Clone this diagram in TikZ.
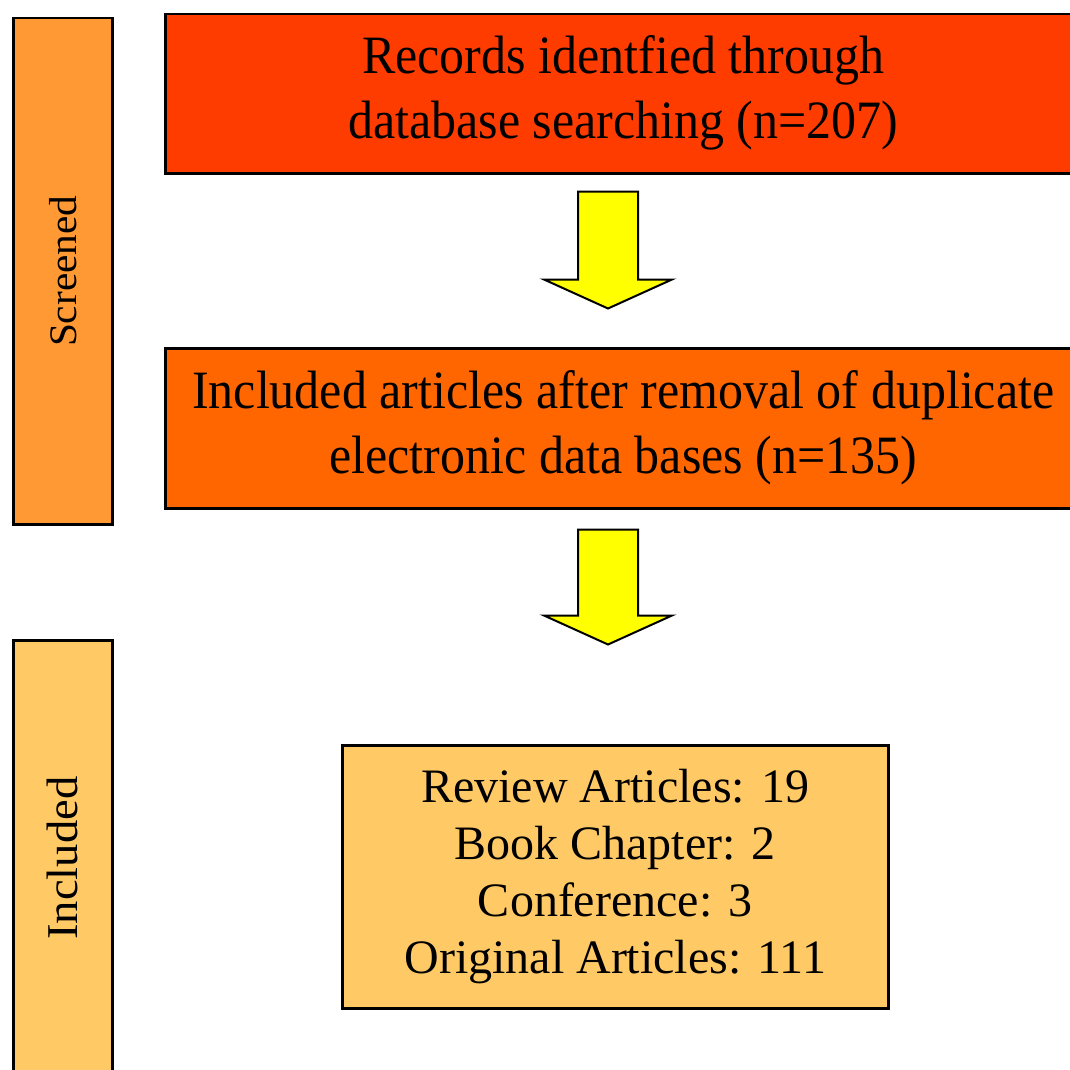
\documentclass[tikz,border=0pt]{standalone}
\usepackage{fontspec}
\setmainfont{Liberation Serif}
\usetikzlibrary{calc}
\definecolor{redbox}{HTML}{FF3C00}
\definecolor{midbox}{HTML}{FF6600}
\definecolor{scrbox}{HTML}{FF9933}
\definecolor{incbox}{HTML}{FFC966}
\definecolor{arrowyellow}{HTML}{FFFF00}
\newcommand{\yarrow}[2]{%
  \draw[blockarrow] (#1) ++(-30,0) -- ++(60,0) -- ++(0,#2) -- ++(34,0) -- ++(-64,29) -- ++(-64,-29) -- ++(34,0) -- cycle;}
\begin{document}
\begin{tikzpicture}[x=1pt,y=-1pt,
  box/.style={draw=black, line width=2.5pt, rectangle, inner sep=0pt, align=center, anchor=north west},
  blockarrow/.style={draw=black, line width=2pt, fill=arrowyellow, line join=miter},
  bigtext/.style={font=\fontsize{50}{58}\selectfont},
  listtext/.style={font=\fontsize{48}{57}\selectfont}]
\useasboundingbox (0,0) rectangle (1070,1070);
\clip (0,0) rectangle (1070,1070);
\fill[white] (0,0) rectangle (1070,1070);
% stage bars
\node[box, fill=scrbox, minimum width=99pt, minimum height=506pt] (scr) at (12,17)
  {\rotatebox{90}{\scalebox{1.06}[1]{\fontsize{39}{45}\selectfont Screened}}};
\node[box, fill=incbox, minimum width=99pt, minimum height=520pt] (inc) at (12,639) {};
\node[rotate=90] (inclabel) at (62,858) {\scalebox{1.06}[1]{\fontsize{44}{50}\selectfont Included}};
% main boxes
\node[box, fill=redbox, minimum width=916pt, minimum height=159pt, bigtext] (top) at (164,13)
  {\scalebox{1}[1.08]{\begin{tabular}{c}Records identfied through\\[2pt] database searching (n=207)\end{tabular}}};
\node[box, fill=midbox, minimum width=916pt, minimum height=160pt, bigtext] (mid) at (164,347)
  {\scalebox{1}[1.08]{\begin{tabular}{c}Included articles after removal of duplicate\\[2pt] electronic data bases (n=135)\end{tabular}}};
\node[box, fill=incbox, minimum width=546pt, minimum height=263pt, listtext] (res) at (341,744)
  {Review Articles: 19\\ Book Chapter: 2\\ Conference: 3\\ Original Articles: 111};
% connectors
\coordinate (a1) at ($(top.south west)+(444,17)$);
\coordinate (a2) at ($(mid.south west)+(444,20)$);
\yarrow{a1}{88}
\yarrow{a2}{86}
\end{tikzpicture}
\end{document}
